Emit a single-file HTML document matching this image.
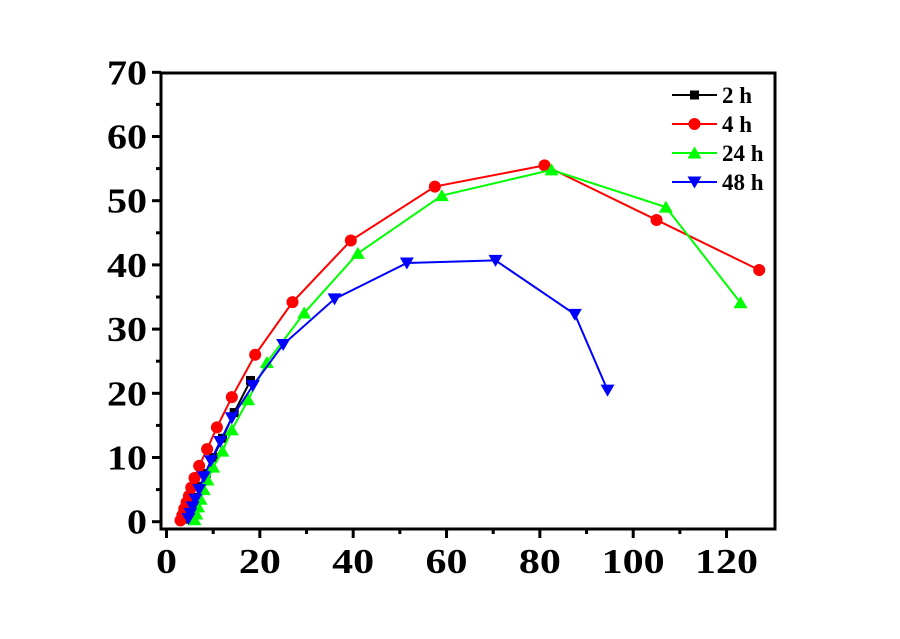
<!DOCTYPE html>
<html><head><meta charset="utf-8"><style>
body{margin:0;background:#fff;width:900px;height:634px;overflow:hidden}
svg text{font-family:"Liberation Serif",serif;font-weight:bold}
</style></head><body>
<svg id="chart" width="900" height="634">
<g id="marks"></g>
<g id="axes"></g>
<g id="legend"></g>
</svg>
<script>
const xTicks=[0,20,40,60,80,100,120];
const yTicks=[0,10,20,30,40,50,60,70];
const seriesNames=["2 h","4 h","24 h","48 h"];
const colors=["#000","#f00","#0f0","#00f"];
const s2x=[4.5,5,5.6,6.3,7.3,8.5,10,12,14.5,18];
const s2y=[0.4,1.3,2.5,3.8,5.5,7.5,10,13,17,22];
const s4x=[3,3.4,3.8,4.3,4.8,5.3,6,7,8.7,10.8,14,19,27,39.5,57.5,81,105,127];
const s4y=[0.2,1,2,3,4,5.3,6.8,8.7,11.3,14.7,19.4,26,34.2,43.8,52.2,55.5,47,39.2];
const s24x=[6,6.4,6.8,7.3,8,8.8,10,12,14,17.5,21.5,29.5,41,59,82.5,107,123];
const s24y=[0.3,1.2,2.3,3.5,5,6.5,8.5,11,14.3,19,24.8,32.5,41.8,50.8,54.8,49,34.1];
const s48x=[4.7,5.1,5.6,6.2,7,8,9.5,11.5,14,18.5,25,36,51.5,70.5,87.5,94.5];
const s48y=[0.5,1.3,2.3,3.5,5,7,9.5,12.5,16.2,21.2,27.6,34.7,40.3,40.7,32.3,20.5];
const NS="http://www.w3.org/2000/svg";
const X=v=>166.5+v*4.667, Y=v=>521.7-v*6.42;
function mk(t,a,p){const e=document.createElementNS(NS,t);for(const k in a)e.setAttribute(k,a[k]);p.appendChild(e);return e;}
function marker(kind,cx,cy,c,p){
 if(kind==0)return mk('rect',{x:cx-4.5,y:cy-4.5,width:9,height:9,fill:c},p);
 if(kind==1)return mk('circle',{cx:cx,cy:cy,r:6,fill:c},p);
 if(kind==2)return mk('polygon',{points:`${cx},${cy-6.5} ${cx-7},${cy+5.5} ${cx+7},${cy+5.5}`,fill:c},p);
 return mk('polygon',{points:`${cx},${cy+6.5} ${cx-7},${cy-5.5} ${cx+7},${cy-5.5}`,fill:c},p);
}
const marks=document.getElementById('marks');
const all=[[s2x,s2y],[s4x,s4y],[s24x,s24y],[s48x,s48y]];
all.forEach((s,i)=>{
 const g=mk('g',{},marks);
 
 
 const pl=mk('polyline',{points:s[0].map((v,j)=>X(v)+','+Y(s[1][j])).join(' '),fill:'none',stroke:colors[i],'stroke-width':2},g);
 
 
 s[0].forEach((v,j)=>{const m=marker(i,X(v),Y(s[1][j]),colors[i],g);
  
  });
});
const ax=document.getElementById('axes');
const fr=mk('rect',{x:161,y:73,width:614,height:456,fill:'none',stroke:'#000','stroke-width':3},ax);


xTicks.forEach(v=>{mk('line',{x1:X(v),x2:X(v),y1:529,y2:538,stroke:'#000','stroke-width':3},ax);
 const s=String(v);
 const t=mk('text',{x:X(v),y:573,'text-anchor':'middle','font-size':35,textLength:s.length*21,lengthAdjust:'spacingAndGlyphs'},ax);t.textContent=s;
 
 
 if(v<120)mk('line',{x1:X(v+10),x2:X(v+10),y1:529,y2:534,stroke:'#000','stroke-width':3},ax);});
yTicks.forEach(v=>{mk('line',{x1:152,x2:161,y1:Y(v),y2:Y(v),stroke:'#000','stroke-width':3},ax);
 const s=String(v);
 const t=mk('text',{x:147,y:Y(v)+12,'text-anchor':'end','font-size':35,textLength:s.length*20,lengthAdjust:'spacingAndGlyphs'},ax);t.textContent=s;
 
 
 if(v<70)mk('line',{x1:156,x2:161,y1:Y(v+5),y2:Y(v+5),stroke:'#000','stroke-width':3},ax);});
const lg=document.getElementById('legend');
seriesNames.forEach((n,i)=>{const y=95+i*29;
 const g=mk('g',{},lg);
 
 
 mk('line',{x1:672,x2:717,y1:y,y2:y,stroke:colors[i],'stroke-width':2},g);
 marker(i,694.5,y,colors[i],g);
 const t=mk('text',{x:722,y:y+8,'font-size':23},g);t.textContent=n;});
</script>
</body></html>
